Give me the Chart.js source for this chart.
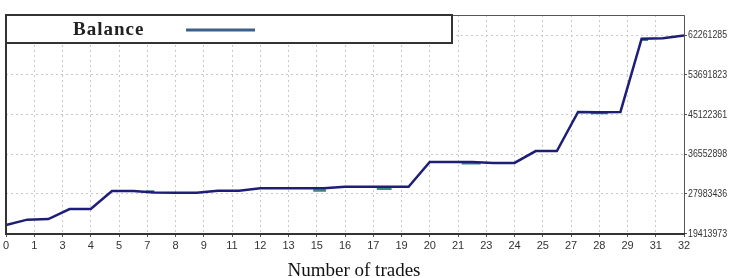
<!DOCTYPE html>
<html>
<head>
<meta charset="utf-8">
<script src="https://cdn.jsdelivr.net/npm/chart.js@4/dist/chart.umd.min.js"></script>
<style>
  body { margin: 0; background: #fff; }
  canvas { display: block; }
</style>
</head>
<body>
<canvas id="balanceChart" width="730" height="278"></canvas>
<script>
// trade number -> account balance
const tradeNo = [0, 1, 2, 3, 4, 5, 6, 7, 8, 9, 10, 11, 12, 13, 14, 15, 16, 17, 18, 19, 20, 21, 22, 23, 24, 25, 26, 27, 28, 29, 30, 31, 32];
const balance = [21270000, 22450000, 22570000, 24740000, 24740000, 28630000, 28630000, 28300000, 28260000, 28260000,
    28700000, 28700000, 29200000, 29200000, 29200000, 29200000, 29550000, 29550000, 29550000, 29550000,
    34900000, 34900000, 34900000, 34700000, 34700000, 37250000, 37250000, 45700000, 45650000, 45700000,
    61500000, 61600000, 62200000];

// short equity dips that show under the balance line
const equityFrom = [6.6, 14.5, 17.5, 21.5, 27.6, 30.0];
const equityTo = [7.0, 15.1, 18.2, 22.4, 28.4, 30.3];
const equityLevel = [28500000, 28750000, 29100000, 34620000, 45450000, 61300000];

const xTickLabels = ['0', '1', '3', '4', '5', '7', '8', '9', '11', '12', '13', '15', '16', '17', '19', '20', '21', '23', '24', '25', '27', '28', '29', '31', '32'];
const yTicks = [19413973, 27983436, 36552898, 45122361, 53691823, 62261285];

const tickFont = { family: '"Liberation Sans"', size: 11 };

const equityData = [];
equityFrom.forEach((f, i) => {
    equityData.push({ x: f, y: equityLevel[i] }, { x: equityTo[i], y: equityLevel[i] }, { x: equityTo[i], y: null });
});

// frame, narrow y labels, legend box and axis title
const decor = {
    id: 'decor',
    afterDraw(chart) {
        const { ctx, chartArea: a } = chart;
        ctx.save();
        ctx.strokeStyle = '#555';
        ctx.lineWidth = 1;
        ctx.beginPath();
        ctx.moveTo(a.left, a.top + 0.5); ctx.lineTo(a.right + 0.5, a.top + 0.5); ctx.lineTo(a.right + 0.5, a.bottom);
        ctx.stroke();
        ctx.strokeStyle = '#333';
        ctx.lineWidth = 2;
        ctx.beginPath();
        ctx.moveTo(a.left, a.top); ctx.lineTo(a.left, a.bottom); ctx.lineTo(a.right + 1, a.bottom);
        ctx.stroke();

        // y labels, squeezed like the terminal font
        ctx.fillStyle = '#333';
        ctx.font = '11px "Liberation Sans"';
        ctx.textBaseline = 'middle';
        yTicks.forEach(v => {
            const y = chart.scales.y.getPixelForValue(v);
            ctx.save();
            ctx.translate(a.right + 4, y);
            ctx.scale(0.8, 1);
            ctx.fillText(String(v), 0, 0);
            ctx.restore();
        });

        // legend box
        ctx.fillStyle = '#fff';
        ctx.fillRect(a.left, a.top, 446, 28);
        ctx.strokeStyle = '#333';
        ctx.lineWidth = 2;
        ctx.strokeRect(a.left, a.top, 446, 28);
        ctx.fillStyle = '#222';
        ctx.font = 'bold 19px "Liberation Serif"';
        ctx.letterSpacing = '1px';
        ctx.textBaseline = 'alphabetic';
        ctx.fillText('Balance', 73, 35);
        ctx.letterSpacing = '0px';
        ctx.strokeStyle = '#3c5f8c';
        ctx.lineWidth = 3;
        ctx.beginPath();
        ctx.moveTo(186, 30); ctx.lineTo(255, 30);
        ctx.stroke();

        // x axis title
        ctx.fillStyle = '#111';
        ctx.font = '19px "Liberation Serif"';
        ctx.textAlign = 'center';
        ctx.fillText('Number of trades', 354, 276);
        ctx.restore();
    }
};

new Chart(document.getElementById('balanceChart'), {
    type: 'line',
    data: {
        datasets: [{
            label: 'Balance',
            data: tradeNo.map((t, i) => ({ x: t, y: balance[i] })),
            borderColor: '#1e1e78',
            borderWidth: 2.5,
            pointRadius: 0,
            tension: 0,
            order: 0
        }, {
            label: 'Equity',
            data: equityData,
            borderColor: '#3b8686',
            borderWidth: 2.5,
            pointRadius: 0,
            spanGaps: false,
            order: 1
        }]
    },
    options: {
        responsive: false,
        animation: false,
        devicePixelRatio: 1,
        layout: { padding: { left: 6, top: 15, right: 0, bottom: 0 } },
        plugins: { legend: { display: false }, tooltip: { enabled: false } },
        scales: {
            x: {
                type: 'linear',
                min: 0,
                max: 32,
                afterBuildTicks: (scale) => { scale.ticks = xTickLabels.map((_, i) => ({ value: i * 32 / 24 })); },
                afterFit: (scale) => { scale.height = 44; },
                ticks: {
                    autoSkip: false,
                    maxRotation: 0,
                    padding: 2,
                    color: '#333',
                    font: tickFont,
                    callback: (v, i) => xTickLabels[i]
                },
                grid: { color: '#c8c8c8', tickColor: '#555', tickLength: 3 },
                border: { display: false, dash: [2, 3] }
            },
            y: {
                position: 'right',
                min: 19349000,
                max: 66620000,
                afterBuildTicks: (scale) => { scale.ticks = yTicks.map(v => ({ value: v })); },
                afterFit: (scale) => { scale.width = 46; },
                ticks: { display: false },
                grid: { color: '#c8c8c8', tickColor: '#555', tickLength: 3 },
                border: { display: false, dash: [2, 3] }
            }
        }
    },
    plugins: [decor]
});
</script>
</body>
</html>
